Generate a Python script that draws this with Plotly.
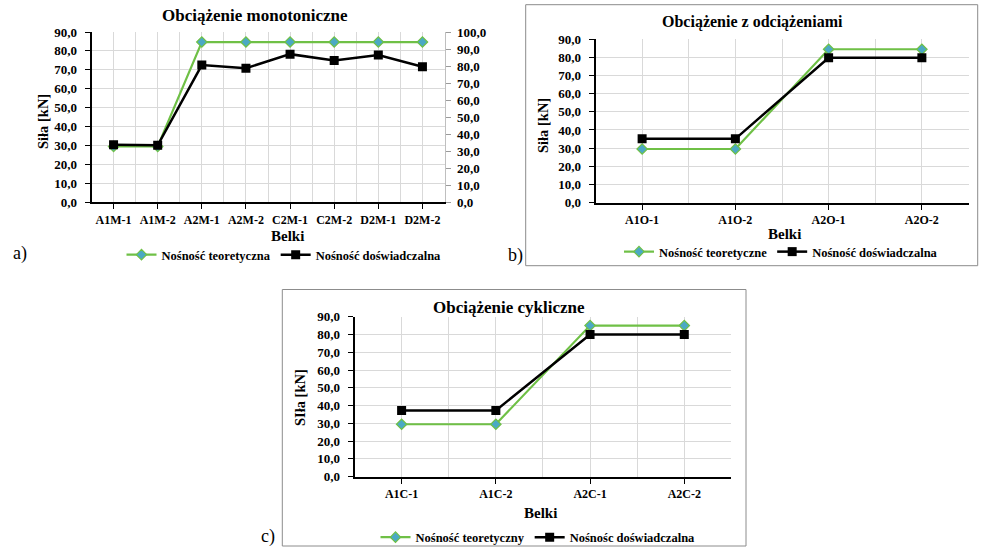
import plotly.graph_objects as go

W, H = 984, 549

# ---------------- data ----------------
cats_a = ["A1M-1", "A1M-2", "A2M-1", "A2M-2", "C2M-1", "C2M-2", "D2M-1", "D2M-2"]
teor_a = [29.5, 29.5, 84.7, 84.7, 84.7, 84.7, 84.7, 84.7]
dosw_a = [30.4, 30.1, 72.5, 70.9, 78.3, 74.9, 77.8, 71.6]

cats_b = ["A1O-1", "A1O-2", "A2O-1", "A2O-2"]
teor_b = [29.5, 29.5, 84.5, 84.5]
dosw_b = [35.1, 35.1, 79.8, 79.8]

cats_c = ["A1C-1", "A1C-2", "A2C-1", "A2C-2"]
teor_c = [29.5, 29.5, 85.0, 85.0]
dosw_c = [37.3, 37.3, 80.0, 80.0]

titles = ["Obciążenie monotoniczne", "Obciążenie z odciążeniami", "Obciążenie cykliczne"]
legend_teor = ["Nośność teoretyczna", "Nośność teoretyczne", "Nośność teoretyczny"]
legend_dosw = ["Nośność doświadczalna", "Nośność doświadczalna", "Nośnośc doświadczalna"]
ylabels = ["Siła [kN]", "Siła [kN]", "SIła [kN]"]
xlabel = "Belki"
panel_labels = ["a)", "b)", "c)"]

# ---------------- style ----------------
FONT = "Liberation Serif, Times New Roman, serif"
GREEN = "#6fc046"
DIAMOND = "#4ba9c4"
GRID = "#d9d9d9"
BORDER = "#8c8c8c"


def xf(px):
    return px / W


def yf(py):
    return 1 - py / H


fig = go.Figure()

panels = [
    dict(cats=cats_a, teor=teor_a, dosw=dosw_a, x0=91.5, x1=444.5, y0=32, y1=202.3,
         leg=(284, 255), title=(255, 15), tsize=17, ylab=(43, 122), xlab=(287, 236)),
    dict(cats=cats_b, teor=teor_b, dosw=dosw_b, x0=595.5, x1=968.5, y0=39.3, y1=202.5,
         leg=(781, 252), title=(752.5, 22), tsize=16, ylab=(543, 126), xlab=(784, 234)),
    dict(cats=cats_c, teor=teor_c, dosw=dosw_c, x0=354.5, x1=731.4, y0=316.7, y1=476.7,
         leg=(538, 537.5), title=(509, 307), tsize=17, ylab=(300, 398), xlab=(540, 513)),
]

legend_names = ["legend", "legend2", "legend3"]
annotations = []

for i, p in enumerate(panels):
    sfx = "" if i == 0 else str(i + 1)
    xa = "x" + sfx
    ya = "y" + sfx
    idx = list(range(len(p["cats"])))
    fig.add_trace(go.Scatter(
        x=idx, y=p["teor"], mode="lines+markers", name=legend_teor[i],
        xaxis=xa, yaxis=ya, legend=legend_names[i],
        line=dict(color=GREEN, width=2.2),
        marker=dict(symbol="diamond", size=8, color=DIAMOND, line=dict(color=GREEN, width=1.2)),
    ))
    fig.add_trace(go.Scatter(
        x=idx, y=p["dosw"], mode="lines+markers", name=legend_dosw[i],
        xaxis=xa, yaxis=ya, legend=legend_names[i],
        line=dict(color="black", width=2.5),
        marker=dict(symbol="square", size=9, color="black"),
    ))

    n = len(p["cats"])
    fig.update_layout(**{
        "xaxis" + sfx: dict(
            domain=[xf(p["x0"]), xf(p["x1"])], anchor=ya,
            range=[-0.5, n - 0.5], tickmode="array", tickvals=idx, ticktext=p["cats"],
            showgrid=True, gridcolor=GRID, gridwidth=1, zeroline=False,
            showline=True, linecolor="black", linewidth=2,
            ticks="outside", ticklen=5, tickcolor="black", tickwidth=1,
            tickfont=dict(family=FONT, size=12, color="black", weight="bold"),
            minor=dict(tickmode="array", tickvals=[k - 0.5 for k in range(n + 1)],
                       showgrid=True, gridcolor=GRID, gridwidth=1, ticks=""),
            fixedrange=True, automargin=False,
        ),
        "yaxis" + sfx: dict(
            domain=[yf(p["y1"]), yf(p["y0"])], anchor=xa,
            range=[0, 90], dtick=10, tick0=0, tickformat=".1f",
            showgrid=True, gridcolor=GRID, gridwidth=1, zeroline=False,
            showline=True, linecolor="black", linewidth=2,
            ticks="outside", ticklen=5, tickcolor="black", tickwidth=1,
            ticklabelstandoff=5,
            tickfont=dict(family=FONT, size=13, color="black", weight="bold"),
            fixedrange=True, automargin=False,
        ),
    })

    fig.update_layout(**{
        legend_names[i]: dict(
            orientation="h", x=xf(p["leg"][0]), y=yf(p["leg"][1]),
            xanchor="center", yanchor="middle", itemwidth=30,
            font=dict(family=FONT, size=12.5, color="black", weight="bold"),
            bgcolor="rgba(0,0,0,0)", tracegroupgap=0,
        )
    })

    annotations.append(dict(text=titles[i], x=xf(p["title"][0]), y=yf(p["title"][1]),
                            xref="paper", yref="paper", showarrow=False,
                            xanchor="center", yanchor="middle",
                            font=dict(family=FONT, size=p["tsize"], color="black", weight="bold")))
    annotations.append(dict(text=ylabels[i], x=xf(p["ylab"][0]), y=yf(p["ylab"][1]),
                            xref="paper", yref="paper", showarrow=False, textangle=-90,
                            xanchor="center", yanchor="middle",
                            font=dict(family=FONT, size=14.5, color="black", weight="bold")))
    annotations.append(dict(text=xlabel, x=xf(p["xlab"][0]), y=yf(p["xlab"][1]),
                            xref="paper", yref="paper", showarrow=False,
                            xanchor="center", yanchor="middle",
                            font=dict(family=FONT, size=15, color="black", weight="bold")))

# right axis for panel a
fig.update_layout(yaxis4=dict(
    overlaying="y", side="right", anchor="x", range=[0, 100], dtick=10, tick0=0,
    tickformat=".1f", showgrid=False, zeroline=False,
    showline=True, linecolor="#bfbfbf", linewidth=1,
    ticks="outside", ticklen=5, tickcolor="#9a9a9a", ticklabelstandoff=4,
    tickfont=dict(family=FONT, size=13, color="black", weight="bold"),
    fixedrange=True, automargin=False,
))
fig.add_trace(go.Scatter(x=[], y=[], xaxis="x", yaxis="y4", showlegend=False, hoverinfo="skip"))

# panel labels
for lab, (px, py) in zip(panel_labels, [(20, 253.5), (515, 255), (267.5, 536)]):
    annotations.append(dict(text=lab, x=xf(px), y=yf(py), xref="paper", yref="paper",
                            showarrow=False, xanchor="center", yanchor="middle",
                            font=dict(family=FONT, size=18, color="black")))

shapes = [
    dict(type="rect", xref="paper", yref="paper", x0=xf(525.7), x1=xf(977.7),
         y0=yf(265.7), y1=yf(4.7), line=dict(color=BORDER, width=1), fillcolor="rgba(0,0,0,0)"),
    dict(type="rect", xref="paper", yref="paper", x0=xf(282.3), x1=xf(746),
         y0=yf(546), y1=yf(289.5), line=dict(color=BORDER, width=1), fillcolor="rgba(0,0,0,0)"),
]

fig.update_layout(
    width=W, height=H, margin=dict(l=0, r=0, t=0, b=0, autoexpand=False),
    paper_bgcolor="white", plot_bgcolor="white",
    separators=", ", annotations=annotations, shapes=shapes,
    font=dict(family=FONT, color="black"),
)

fig.write_html("out.html", config={"displayModeBar": False},
               post_script="document.body.style.margin='0';document.body.style.padding='0';"
                           "document.body.style.overflow='hidden';")
